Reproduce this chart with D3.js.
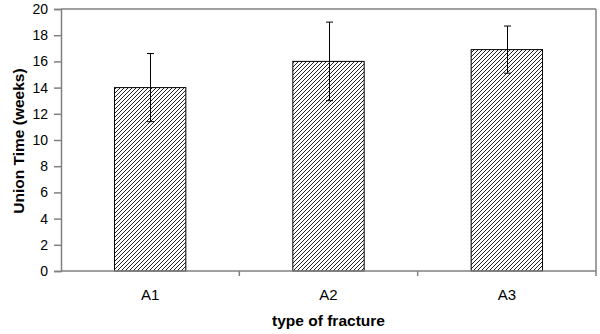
<!DOCTYPE html>
<html><head><meta charset="utf-8">
<script src="https://cdn.jsdelivr.net/npm/d3@7"></script>
<style>body{margin:0;background:#fff}svg{display:block}text{font-family:"Liberation Sans",Arial,sans-serif}</style>
</head><body><svg id="c" width="600" height="334"></svg>
<script>
const categories = ["A1", "A2", "A3"];
const values = [14.0, 16.0, 16.9];
const errors = [2.6, 3.0, 1.8];
const yTicks = [0, 2, 4, 6, 8, 10, 12, 14, 16, 18, 20];
const xTitle = "type of fracture";
const yTitle = "Union Time (weeks)";

const svg = d3.select("#c");
const m = {l: 61, r: 596, t: 9, b: 271};
const x = d3.scaleBand().domain(categories).range([m.l, m.r]).padding(0);
const y = d3.scaleLinear().domain([0, 20]).range([m.b, m.t]);
const axisCol = "#808080";

const defs = svg.append("defs");
const pat = defs.append("pattern").attr("id", "hatch").attr("patternUnits", "userSpaceOnUse")
  .attr("width", 4).attr("height", 4);
pat.append("rect").attr("width", 4).attr("height", 4).attr("fill", "#fff");
pat.append("path").attr("d", "M-1,1 l2,-2 M0,4 l4,-4 M3,5 l2,-2").attr("stroke", "#222").attr("stroke-width", 1);

// frame top and right
svg.append("line").attr("x1", m.l).attr("x2", m.r).attr("y1", m.t).attr("y2", m.t).attr("stroke", axisCol).attr("stroke-width", 1.5);
svg.append("line").attr("x1", m.r).attr("x2", m.r).attr("y1", m.t).attr("y2", m.b).attr("stroke", axisCol).attr("stroke-width", 1.5);

const bw = x.bandwidth() * 0.4;
const g = svg.append("g");
g.selectAll("rect.bar").data(values).join("rect").attr("class", "bar")
  .attr("x", (d, i) => x(categories[i]) + (x.bandwidth() - bw) / 2)
  .attr("width", bw)
  .attr("y", d => y(d))
  .attr("height", d => y(0) - y(d))
  .attr("fill", "url(#hatch)").attr("stroke", "#000").attr("stroke-width", 1);

// error bars
const eb = svg.append("g").attr("stroke", "#000").attr("stroke-width", 1);
values.forEach((v, i) => {
  const cx = Math.round(x(categories[i]) + x.bandwidth() / 2) + 0.5;
  eb.append("line").attr("x1", cx).attr("x2", cx).attr("y1", y(v + errors[i])).attr("y2", y(v - errors[i]));
  [v + errors[i], v - errors[i]].forEach(e => {
    eb.append("line").attr("x1", cx - 3.5).attr("x2", cx + 3.5).attr("y1", y(e)).attr("y2", y(e));
  });
});

// y axis
const ya = svg.append("g").attr("transform", `translate(${m.l},0)`)
  .call(d3.axisLeft(y).tickValues(yTicks).tickSize(7).tickPadding(6));
ya.select(".domain").attr("stroke", axisCol).attr("stroke-width", 1.5);
ya.selectAll(".tick line").attr("stroke", axisCol).attr("stroke-width", 1.5);
ya.selectAll(".tick text").attr("font-size", 14).attr("fill", "#000").attr("font-family", "Liberation Sans, Arial, sans-serif");

// x axis
svg.append("line").attr("x1", m.l).attr("x2", m.r).attr("y1", m.b).attr("y2", m.b).attr("stroke", axisCol).attr("stroke-width", 1.5);
const bounds = categories.map(c => x(c)).concat([m.r]).slice(1);
svg.selectAll("line.xt").data(bounds).join("line").attr("class", "xt")
  .attr("x1", d => d).attr("x2", d => d).attr("y1", m.b).attr("y2", m.b + 5)
  .attr("stroke", axisCol).attr("stroke-width", 1.5);
svg.selectAll("text.xl").data(categories).join("text").attr("class", "xl")
  .attr("x", d => x(d) + x.bandwidth() / 2).attr("y", 300)
  .attr("text-anchor", "middle").attr("font-size", 15).text(d => d);

svg.append("text").attr("x", (m.l + m.r) / 2).attr("y", 326).attr("text-anchor", "middle")
  .attr("font-size", 15.5).attr("font-weight", "bold").text(xTitle);
svg.append("text").attr("transform", `translate(24,${(m.t + m.b) / 2 + 1}) rotate(-90)`)
  .attr("text-anchor", "middle").attr("font-size", 15.5).attr("font-weight", "bold").text(yTitle);
</script></body></html>
